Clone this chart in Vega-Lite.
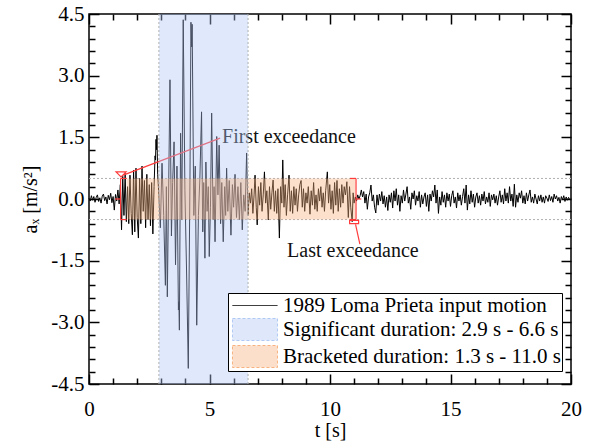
{
  "$schema": "https://vega.github.io/schema/vega-lite/v6.json",
  "width": 482,
  "height": 370,
  "autosize": {"type": "none"},
  "padding": {"left": 89, "top": 14, "right": 18, "bottom": 60},
  "background": "white",
  "config": {
    "font": "Liberation Serif",
    "view": {"stroke": "black", "strokeWidth": 1.5},
    "axis": {"labelFont": "Liberation Serif", "labelFontSize": 21, "labelColor": "black", "titleFont": "Liberation Serif", "titleFontSize": 20, "titleFontWeight": "normal", "titleColor": "black", "tickColor": "black", "tickWidth": 1.5, "domain": false, "grid": false, "labelOverlap": false, "labelFlush": false}
  },
  "datasets": {
    "acc": [
      {"t":0.00,"a":0.02},{"t":0.05,"a":-0.05},{"t":0.10,"a":0.08},{"t":0.15,"a":-0.03},{"t":0.20,"a":0.06},{"t":0.25,"a":-0.08},{"t":0.30,"a":0.04},{"t":0.35,"a":0.10},{"t":0.40,"a":-0.06},{"t":0.45,"a":0.03},{"t":0.50,"a":-0.10},{"t":0.55,"a":0.07},{"t":0.60,"a":0.12},{"t":0.65,"a":-0.04},{"t":0.70,"a":0.05},{"t":0.75,"a":-0.12},{"t":0.80,"a":0.09},{"t":0.85,"a":-0.02},{"t":0.90,"a":0.14},{"t":0.95,"a":-0.09},{"t":1.00,"a":0.06},{"t":1.05,"a":-0.27},{"t":1.10,"a":0.11},{"t":1.15,"a":-0.05},{"t":1.20,"a":0.22},{"t":1.25,"a":-0.12},
      {"t":1.30,"a":0.35},{"t":1.35,"a":-0.75},{"t":1.40,"a":0.55},{"t":1.45,"a":-0.40},{"t":1.50,"a":0.62},{"t":1.55,"a":-0.55},{"t":1.60,"a":0.30},{"t":1.65,"a":-0.60},{"t":1.70,"a":0.58},{"t":1.75,"a":-0.35},{"t":1.80,"a":-0.87},{"t":1.85,"a":0.70},{"t":1.90,"a":-0.80},{"t":1.95,"a":0.75},{"t":2.00,"a":-0.45},{"t":2.05,"a":-0.95},{"t":2.10,"a":0.50},{"t":2.15,"a":-0.60},{"t":2.20,"a":0.80},{"t":2.25,"a":-0.30},{"t":2.30,"a":0.45},{"t":2.35,"a":-0.70},{"t":2.40,"a":0.60},{"t":2.45,"a":-0.50},{"t":2.50,"a":0.35},{"t":2.55,"a":-0.65},{"t":2.60,"a":0.40},{"t":2.65,"a":-0.85},{"t":2.70,"a":0.30},{"t":2.74,"a":1.05},{"t":2.76,"a":0.95},{"t":2.78,"a":1.45},{"t":2.80,"a":1.20},{"t":2.82,"a":1.55},{"t":2.85,"a":0.60},
      {"t":2.90,"a":0.10},{"t":2.96,"a":-0.70},{"t":3.03,"a":0.87},{"t":3.10,"a":-0.40},{"t":3.17,"a":-2.10},{"t":3.21,"a":0.30},{"t":3.25,"a":-2.38},{"t":3.31,"a":0.50},{"t":3.36,"a":2.90},{"t":3.42,"a":-0.90},{"t":3.47,"a":0.40},{"t":3.53,"a":1.39},{"t":3.59,"a":-1.60},{"t":3.65,"a":0.80},{"t":3.71,"a":-2.70},{"t":3.73,"a":-2.50},{"t":3.75,"a":-3.19},{"t":3.80,"a":1.60},{"t":3.85,"a":-0.50},{"t":3.91,"a":4.36},{"t":3.98,"a":0.20},{"t":4.05,"a":-1.80},{"t":4.12,"a":-4.12},{"t":4.19,"a":0.50},{"t":4.23,"a":4.30},{"t":4.26,"a":3.70},{"t":4.28,"a":4.25},{"t":4.35,"a":-0.40},{"t":4.41,"a":0.80},{"t":4.47,"a":-3.07},{"t":4.54,"a":-0.40},{"t":4.60,"a":0.50},{"t":4.67,"a":2.12},{"t":4.72,"a":-0.80},{"t":4.76,"a":0.40},{"t":4.81,"a":-1.44},{"t":4.85,"a":0.90},{"t":4.90,"a":-0.30},{"t":4.95,"a":0.30},{"t":4.99,"a":-1.40},{"t":5.04,"a":-0.20},{"t":5.09,"a":2.09},{"t":5.15,"a":-0.50},{"t":5.19,"a":0.30},{"t":5.23,"a":-1.04},{"t":5.30,"a":1.52},{"t":5.35,"a":0.10},{"t":5.40,"a":1.31},{"t":5.46,"a":-0.60},{"t":5.51,"a":0.40},{"t":5.57,"a":-1.04},{"t":5.63,"a":0.30},{"t":5.67,"a":-0.40},{"t":5.71,"a":0.75},{"t":5.76,"a":-0.30},{"t":5.82,"a":0.45},{"t":5.89,"a":-0.88},{"t":5.95,"a":0.35},{"t":6.00,"a":-0.20},{"t":6.06,"a":0.60},{"t":6.12,"a":-0.45},{"t":6.18,"a":0.30},{"t":6.24,"a":-0.50},{"t":6.30,"a":0.40},{"t":6.36,"a":-0.75},{"t":6.42,"a":0.10},{"t":6.48,"a":-0.30},{"t":6.54,"a":1.12},
      {"t":6.60,"a":-0.40},{"t":6.65,"a":0.15},{"t":6.70,"a":-0.10},{"t":6.75,"a":0.25},{"t":6.80,"a":-0.35},{"t":6.85,"a":0.10},{"t":6.89,"a":0.58},{"t":6.94,"a":-0.20},{"t":6.98,"a":-0.63},{"t":7.03,"a":0.30},{"t":7.08,"a":-0.15},{"t":7.13,"a":0.40},{"t":7.18,"a":-0.30},{"t":7.23,"a":0.10},{"t":7.28,"a":0.66},{"t":7.33,"a":-0.10},{"t":7.38,"a":0.20},{"t":7.44,"a":-0.51},{"t":7.49,"a":0.30},{"t":7.54,"a":-0.25},{"t":7.59,"a":0.15},{"t":7.64,"a":0.46},{"t":7.69,"a":-0.30},{"t":7.74,"a":0.20},{"t":7.79,"a":-0.35},{"t":7.84,"a":0.25},{"t":7.90,"a":-0.95},{"t":7.95,"a":0.30},{"t":8.00,"a":-0.10},{"t":8.04,"a":0.95},{"t":8.09,"a":-0.20},{"t":8.14,"a":0.35},{"t":8.19,"a":-0.40},{"t":8.24,"a":0.10},{"t":8.30,"a":0.58},{"t":8.35,"a":-0.30},{"t":8.40,"a":0.20},{"t":8.45,"a":-0.35},{"t":8.50,"a":0.30},{"t":8.55,"a":-0.15},{"t":8.60,"a":0.25},{"t":8.65,"a":-0.30},{"t":8.70,"a":0.10},{"t":8.75,"a":0.35},{"t":8.80,"a":0.45},{"t":8.85,"a":-0.20},{"t":8.90,"a":0.25},{"t":8.95,"a":-0.30},{"t":9.00,"a":0.15},{"t":9.05,"a":-0.10},{"t":9.10,"a":0.30},{"t":9.17,"a":-0.37},{"t":9.22,"a":0.20},{"t":9.27,"a":-0.15},{"t":9.32,"a":0.40},{"t":9.37,"a":-0.25},{"t":9.42,"a":0.10},{"t":9.47,"a":-0.30},{"t":9.52,"a":0.25},{"t":9.57,"a":-0.05},{"t":9.62,"a":0.30},{"t":9.67,"a":-0.20},{"t":9.72,"a":0.15},{"t":9.77,"a":-0.30},{"t":9.82,"a":0.20},{"t":9.89,"a":0.66},{"t":9.94,"a":-0.10},{"t":9.99,"a":0.35},{"t":10.04,"a":-0.25},{"t":10.09,"a":0.20},{"t":10.14,"a":-0.35},{"t":10.19,"a":0.40},{"t":10.24,"a":-0.15},{"t":10.29,"a":0.45},{"t":10.34,"a":-0.30},{"t":10.39,"a":0.25},{"t":10.44,"a":-0.20},{"t":10.49,"a":0.35},{"t":10.54,"a":-0.10},{"t":10.59,"a":0.30},{"t":10.64,"a":0.10},{"t":10.70,"a":0.42},{"t":10.76,"a":-0.45},{"t":10.81,"a":0.30},{"t":10.86,"a":-0.20},{"t":10.92,"a":-0.55},{"t":10.96,"a":0.15},
      {"t":11.00,"a":-0.10},{"t":11.05,"a":0.05},{"t":11.10,"a":-0.05},{"t":11.15,"a":0.10},{"t":11.20,"a":0.00},{"t":11.25,"a":0.08},{"t":11.30,"a":0.22},{"t":11.35,"a":0.05},{"t":11.40,"a":0.18},{"t":11.45,"a":-0.10},{"t":11.50,"a":0.12},{"t":11.55,"a":-0.25},{"t":11.60,"a":0.05},{"t":11.65,"a":0.15},{"t":11.70,"a":0.34},{"t":11.75,"a":-0.05},{"t":11.80,"a":0.10},{"t":11.85,"a":-0.20},{"t":11.90,"a":-0.34},{"t":11.95,"a":0.10},{"t":12.00,"a":-0.15},{"t":12.05,"a":0.12},{"t":12.10,"a":-0.05},{"t":12.15,"a":0.18},{"t":12.20,"a":-0.12},{"t":12.25,"a":0.08},{"t":12.30,"a":-0.20},{"t":12.35,"a":0.05},{"t":12.40,"a":-0.28},{"t":12.45,"a":0.10},{"t":12.50,"a":-0.08},{"t":12.55,"a":0.15},{"t":12.60,"a":-0.22},{"t":12.65,"a":0.20},{"t":12.70,"a":-0.05},{"t":12.75,"a":0.25},{"t":12.80,"a":-0.15},{"t":12.85,"a":0.10},{"t":12.90,"a":-0.30},{"t":12.95,"a":0.08},{"t":13.00,"a":-0.10},{"t":13.05,"a":0.22},{"t":13.10,"a":-0.05},{"t":13.15,"a":0.12},{"t":13.20,"a":0.30},{"t":13.25,"a":-0.10},{"t":13.30,"a":0.05},{"t":13.35,"a":-0.25},{"t":13.40,"a":0.15},{"t":13.45,"a":0.00},{"t":13.50,"a":0.20},{"t":13.55,"a":-0.15},{"t":13.60,"a":0.08},{"t":13.65,"a":-0.05},{"t":13.70,"a":0.18},{"t":13.75,"a":-0.20},{"t":13.80,"a":0.10},{"t":13.85,"a":-0.12},{"t":13.90,"a":0.05},{"t":13.95,"a":0.15},{"t":14.00,"a":-0.18},{"t":14.05,"a":0.10},{"t":14.10,"a":-0.30},{"t":14.15,"a":0.12},{"t":14.20,"a":-0.05},{"t":14.25,"a":0.20},{"t":14.30,"a":0.05},{"t":14.35,"a":0.34},{"t":14.40,"a":-0.10},{"t":14.45,"a":0.22},{"t":14.50,"a":-0.35},{"t":14.55,"a":0.05},{"t":14.60,"a":-0.15},{"t":14.65,"a":0.18},{"t":14.70,"a":-0.08},{"t":14.75,"a":0.10},{"t":14.80,"a":-0.20},{"t":14.85,"a":0.15},{"t":14.90,"a":-0.05},{"t":14.95,"a":0.12},{"t":15.00,"a":-0.18},{"t":15.05,"a":0.08},{"t":15.10,"a":0.20},{"t":15.15,"a":-0.10},{"t":15.20,"a":0.05},{"t":15.25,"a":-0.22},{"t":15.30,"a":0.15},{"t":15.35,"a":-0.05},{"t":15.40,"a":0.10},{"t":15.45,"a":-0.15},{"t":15.50,"a":0.06},{"t":15.55,"a":0.25},{"t":15.60,"a":-0.10},{"t":15.65,"a":0.34},{"t":15.70,"a":-0.27},{"t":15.75,"a":0.10},{"t":15.80,"a":-0.12},{"t":15.85,"a":0.20},{"t":15.90,"a":-0.08},{"t":15.95,"a":0.12},{"t":16.00,"a":-0.20},{"t":16.05,"a":0.05},{"t":16.10,"a":0.15},{"t":16.15,"a":-0.10},{"t":16.20,"a":0.08},{"t":16.25,"a":-0.15},{"t":16.30,"a":0.12},{"t":16.35,"a":-0.05},{"t":16.40,"a":0.18},{"t":16.45,"a":-0.12},{"t":16.50,"a":0.05},{"t":16.55,"a":-0.08},{"t":16.60,"a":0.15},{"t":16.65,"a":-0.18},{"t":16.70,"a":0.10},{"t":16.75,"a":-0.02},{"t":16.80,"a":0.12},{"t":16.85,"a":-0.10},{"t":16.90,"a":0.08},{"t":16.95,"a":-0.15},{"t":17.00,"a":0.05},{"t":17.05,"a":0.20},{"t":17.10,"a":-0.08},{"t":17.15,"a":0.10},{"t":17.20,"a":-0.12},{"t":17.25,"a":0.25},{"t":17.30,"a":-0.05},{"t":17.35,"a":0.15},{"t":17.40,"a":-0.10},{"t":17.45,"a":0.30},{"t":17.50,"a":-0.05},{"t":17.55,"a":0.12},{"t":17.60,"a":-0.18},{"t":17.65,"a":0.36},{"t":17.70,"a":-0.20},{"t":17.75,"a":0.10},{"t":17.80,"a":-0.08},{"t":17.85,"a":0.15},{"t":17.90,"a":0.02},{"t":17.95,"a":0.20},{"t":18.00,"a":-0.10},{"t":18.05,"a":0.08},{"t":18.10,"a":-0.12},{"t":18.15,"a":0.15},{"t":18.20,"a":-0.05},{"t":18.25,"a":0.10},{"t":18.30,"a":0.22},{"t":18.35,"a":-0.08},{"t":18.40,"a":0.05},{"t":18.45,"a":-0.10},{"t":18.50,"a":0.12},{"t":18.55,"a":0.00},{"t":18.60,"a":-0.12},{"t":18.65,"a":0.08},{"t":18.70,"a":-0.05},{"t":18.75,"a":0.10},{"t":18.80,"a":-0.08},{"t":18.85,"a":0.05},{"t":18.90,"a":-0.10},{"t":18.95,"a":0.08},{"t":19.00,"a":0.02},{"t":19.05,"a":-0.06},{"t":19.10,"a":0.10},{"t":19.15,"a":-0.04},{"t":19.20,"a":0.06},{"t":19.25,"a":-0.08},{"t":19.30,"a":0.12},{"t":19.35,"a":0.00},{"t":19.40,"a":0.08},{"t":19.45,"a":-0.05},{"t":19.50,"a":0.04},{"t":19.55,"a":-0.10},{"t":19.60,"a":0.06},{"t":19.65,"a":-0.02},{"t":19.70,"a":0.08},{"t":19.75,"a":-0.06},{"t":19.80,"a":0.05},{"t":19.85,"a":-0.03},{"t":19.90,"a":0.04},{"t":19.95,"a":-0.02},{"t":20.00,"a":0.01}
    ]
  },
  "resolve": {"axis": {"x": "independent", "y": "independent"}},
  "layer": [
    {
      "mark": {"type": "rule", "color": "#9a9a9a", "strokeWidth": 0.8},
      "encoding": {
        "x": {"datum": 0, "type": "quantitative", "scale": {"domain": [0, 20], "nice": false, "zero": false},
          "axis": {"orient": "top", "values": [0,1,2,3,4,5,6,7,8,9,10,11,12,13,14,15,16,17,18,19,20], "labels": false, "title": null,
            "tickSize": {"condition": {"test": "datum.value % 5 === 0", "value": -10}, "value": -6}}},
        "x2": {"datum": 20},
        "y": {"datum": 0, "type": "quantitative", "scale": {"domain": [-4.5, 4.5], "nice": false, "zero": false},
          "axis": {"orient": "right", "values": [-4.5,-4.2,-3.9,-3.6,-3.3,-3.0,-2.7,-2.4,-2.1,-1.8,-1.5,-1.2,-0.9,-0.6,-0.3,0,0.3,0.6,0.9,1.2,1.5,1.8,2.1,2.4,2.7,3.0,3.3,3.6,3.9,4.2,4.5], "labels": false, "title": null,
            "tickSize": {"condition": {"test": "abs(datum.value) % 1.5 < 0.001", "value": -10}, "value": -6}}}
      }
    },
    {
      "data": {"values": [{"level": 0.5}, {"level": -0.5}]},
      "mark": {"type": "rule", "color": "#b0b0b0", "strokeWidth": 1, "strokeDash": [2, 2]},
      "encoding": {
        "x": {"datum": 0, "type": "quantitative", "axis": null},
        "x2": {"datum": 20},
        "y": {"field": "level", "type": "quantitative", "axis": null}
      }
    },
    {
      "data": {"name": "acc"},
      "mark": {"type": "line", "strokeWidth": 1, "interpolate": "linear"},
      "encoding": {
        "x": {"field": "t", "type": "quantitative",
          "axis": {"orient": "bottom", "values": [0,1,2,3,4,5,6,7,8,9,10,11,12,13,14,15,16,17,18,19,20], "title": "t [s]",
            "labelExpr": "datum.value % 5 === 0 ? datum.label : ''",
            "tickSize": {"condition": {"test": "datum.value % 5 === 0", "value": -10}, "value": -6},
            "labelPadding": 24, "titlePadding": -3}},
        "y": {"field": "a", "type": "quantitative",
          "axis": {"orient": "left", "values": [-4.5,-4.2,-3.9,-3.6,-3.3,-3.0,-2.7,-2.4,-2.1,-1.8,-1.5,-1.2,-0.9,-0.6,-0.3,0,0.3,0.6,0.9,1.2,1.5,1.8,2.1,2.4,2.7,3.0,3.3,3.6,3.9,4.2,4.5], "title": "aₓ [m/s²]",
            "labelExpr": "abs(datum.value) % 1.5 < 0.001 ? (datum.value < 0 ? '-' : '') + format(abs(datum.value), '.1f') : ''",
            "tickSize": {"condition": {"test": "abs(datum.value) % 1.5 < 0.001", "value": -10}, "value": -6},
            "labelPadding": 15, "titlePadding": 10}},
        "order": {"field": "t", "type": "quantitative"},
        "color": {"datum": "1989 Loma Prieta input motion", "type": "nominal",
          "scale": {"domain": ["1989 Loma Prieta input motion", "Significant duration: 2.9 s - 6.6 s", "Bracketed duration: 1.3 s - 11.0 s"], "range": ["#000000", "#b0c9f4", "#f7b280"]},
          "legend": {"orient": "none", "legendX": 139, "legendY": 279, "title": null, "symbolSize": 484, "symbolOffset": 0, "labelOffset": 31,
            "labelFont": "Liberation Serif", "labelFontSize": 21, "labelColor": "black", "labelLimit": 400,
            "strokeColor": "black", "fillColor": "white", "padding": 1, "rowPadding": 0,
            "encode": {"symbols": {"update": {
              "shape": {"signal": "datum.value == '1989 Loma Prieta input motion' ? 'M-0.73,0L3.36,0' : 'M-0.73,-1L3.36,-1L3.36,1L-0.73,1Z'"},
              "stroke": {"signal": "datum.value == '1989 Loma Prieta input motion' ? '#000000' : '#b8b8b8'"},
              "strokeDash": {"signal": "datum.value == '1989 Loma Prieta input motion' ? [1, 0] : [3, 2]"},
              "strokeWidth": {"value": 1},
              "opacity": {"value": 1},
              "fillOpacity": {"value": 0.42},
              "strokeOpacity": {"value": 1}
            }}}}
        }
      }
    },
    {
      "data": {"values": [
        {"t1": 1.42, "a1": 0.58, "t2": 5.44, "a2": 1.48},
        {"t1": 11.06, "a1": -0.62, "t2": 11.24, "a2": -1.1}
      ]},
      "mark": {"type": "rule", "color": "#ff3b3b", "strokeWidth": 1.2},
      "encoding": {
        "x": {"field": "t1", "type": "quantitative", "axis": null},
        "x2": {"field": "t2"},
        "y": {"field": "a1", "type": "quantitative", "axis": null},
        "y2": {"field": "a2"}
      }
    },
    {
      "data": {"values": [
        {"t": 5.52, "a": 1.5, "label": "First exceedance"},
        {"t": 8.22, "a": -1.27, "label": "Last exceedance"}
      ]},
      "mark": {"type": "text", "align": "left", "baseline": "middle", "font": "Liberation Serif", "fontSize": 20, "color": "#111111"},
      "encoding": {
        "x": {"field": "t", "type": "quantitative", "axis": null},
        "y": {"field": "a", "type": "quantitative", "axis": null},
        "text": {"field": "label"}
      }
    },
    {
      "data": {"values": [{"start": 2.9, "end": 6.6}]},
      "mark": {"type": "rect", "opacity": 0.4},
      "encoding": {
        "x": {"field": "start", "type": "quantitative", "axis": null},
        "x2": {"field": "end"},
        "y": {"datum": -4.5, "type": "quantitative", "axis": null},
        "y2": {"datum": 4.5},
        "color": {"datum": "Significant duration: 2.9 s - 6.6 s", "type": "nominal"}
      }
    },
    {
      "data": {"values": [{"start": 1.56, "end": 11.05}]},
      "mark": {"type": "rect", "opacity": 0.4},
      "encoding": {
        "x": {"field": "start", "type": "quantitative", "axis": null},
        "x2": {"field": "end"},
        "y": {"datum": -0.5, "type": "quantitative", "axis": null},
        "y2": {"datum": 0.5},
        "color": {"datum": "Bracketed duration: 1.3 s - 11.0 s", "type": "nominal"}
      }
    },
    {
      "data": {"values": [{"edge": 2.9}, {"edge": 6.6}]},
      "mark": {"type": "rule", "color": "#b0b0b0", "strokeWidth": 1, "strokeDash": [2, 2]},
      "encoding": {
        "x": {"field": "edge", "type": "quantitative", "axis": null},
        "y": {"datum": -4.5, "type": "quantitative", "axis": null},
        "y2": {"datum": 4.5}
      }
    },
    {
      "data": {"values": [
        {"t1": 1.31, "a1": -0.5, "t2": 1.31, "a2": 0.5},
        {"t1": 1.31, "a1": 0.5, "t2": 1.56, "a2": 0.5},
        {"t1": 1.31, "a1": -0.5, "t2": 1.56, "a2": -0.5},
        {"t1": 1.08, "a1": 0, "t2": 1.31, "a2": 0},
        {"t1": 11.08, "a1": -0.5, "t2": 11.08, "a2": 0.5},
        {"t1": 10.83, "a1": 0.5, "t2": 11.08, "a2": 0.5},
        {"t1": 10.83, "a1": -0.5, "t2": 11.08, "a2": -0.5},
        {"t1": 11.08, "a1": 0, "t2": 11.3, "a2": 0}
      ]},
      "mark": {"type": "rule", "color": "#ff3b3b", "strokeWidth": 1.2},
      "encoding": {
        "x": {"field": "t1", "type": "quantitative", "axis": null},
        "x2": {"field": "t2"},
        "y": {"field": "a1", "type": "quantitative", "axis": null},
        "y2": {"field": "a2"}
      }
    },
    {
      "data": {"values": [{"t": 1.33, "a": 0.6, "kind": "first"}]},
      "mark": {"type": "point", "shape": "M-1,-0.5L1,-0.5L0,0.5Z", "size": 100, "filled": false, "color": "#ff3b3b", "strokeWidth": 1.2, "opacity": 1},
      "encoding": {
        "x": {"field": "t", "type": "quantitative", "axis": null},
        "y": {"field": "a", "type": "quantitative", "axis": null}
      }
    },
    {
      "data": {"values": [{"t": 11.0, "a": -0.56, "kind": "last"}]},
      "mark": {"type": "point", "shape": "M-1,-0.35L1,-0.35L1,0.35L-1,0.35Z", "size": 81, "filled": false, "color": "#ff3b3b", "strokeWidth": 1.2, "opacity": 1},
      "encoding": {
        "x": {"field": "t", "type": "quantitative", "axis": null},
        "y": {"field": "a", "type": "quantitative", "axis": null}
      }
    }
  ]
}
